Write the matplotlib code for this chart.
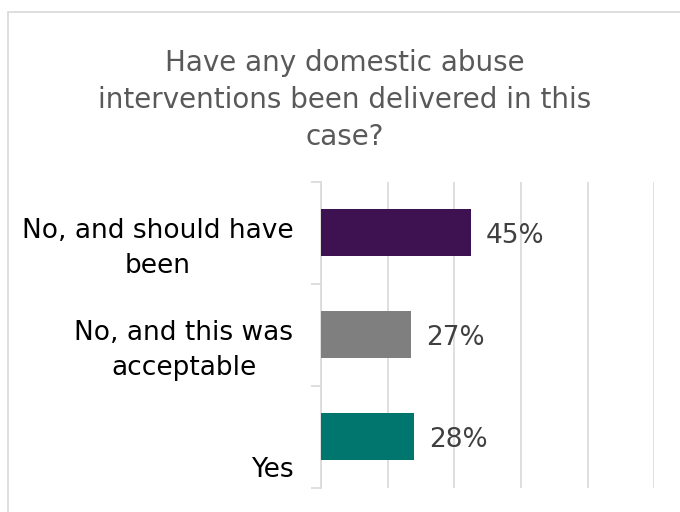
import matplotlib as mpl
mpl.use('Agg')
import matplotlib.pyplot as plt
import matplotlib.patches as mpatches
import matplotlib.ticker as mtick
from matplotlib.transforms import ScaledTranslation

mpl.rcParams['font.family'] = 'DejaVu Sans'

title = 'Have any domestic abuse\ninterventions been delivered in this\ncase?'
categories = ['No, and should have\nbeen', 'No, and this was\nacceptable', '\nYes']
values = [0.45, 0.27, 0.28]
colors = ['#3E1151', '#7F7F7F', '#00766E']

grid_c = '#D9D9D9'

fig = plt.figure(figsize=(6.8, 5.12), dpi=100)
ax = fig.add_axes([0.472, 0.047, 0.49, 0.598])

pos = list(range(len(values)))
ax.barh(pos, values, height=0.46, color=colors, zorder=3)
ax.set_xlim(0, 1.0)
ax.set_ylim(len(values) - 0.5, -0.5)

# value labels to the right of each bar
for p, v in zip(pos, values):
    ax.annotate('{:.0%}'.format(v), (v, p), xytext=(11, -2.5), textcoords='offset points',
                va='center', ha='left', fontsize=19, color='#404040')

# vertical gridlines every 20%
ax.xaxis.set_major_locator(mtick.MultipleLocator(0.2))
ax.grid(axis='x', color=grid_c, linewidth=1.2, zorder=0)
ax.tick_params(axis='x', length=0, labelbottom=False)

# tick marks at category boundaries, labels at centres
ax.set_yticks([p - 0.5 for p in pos] + [pos[-1] + 0.5])
ax.set_yticklabels([])
ax.tick_params(axis='y', which='major', length=7.5, width=1.2, color=grid_c)
ax.set_yticks(pos, minor=True)
ax.set_yticklabels(categories, minor=True, fontsize=19, color='black', multialignment='center')
ax.tick_params(axis='y', which='minor', length=0, pad=20)
shift = ScaledTranslation(0, -0.085, fig.dpi_scale_trans)
for lbl in ax.get_yticklabels(minor=True):
    lbl.set_transform(lbl.get_transform() + shift)
    lbl.set_linespacing(1.42)

for s in ['top', 'right', 'bottom']:
    ax.spines[s].set_visible(False)
ax.spines['left'].set_color(grid_c)
ax.spines['left'].set_linewidth(1.2)

fig.text(0.507, 0.805, title, ha='center', va='center', fontsize=20,
         color='#595959', linespacing=1.42)

# chart border
fig.add_artist(mpatches.Rectangle((8 / 680, -0.1), 1.2, 1.1 - 12 / 512,
                                  transform=fig.transFigure, fill=False,
                                  edgecolor=grid_c, linewidth=1.2))

fig.savefig('out.png', dpi=100)
